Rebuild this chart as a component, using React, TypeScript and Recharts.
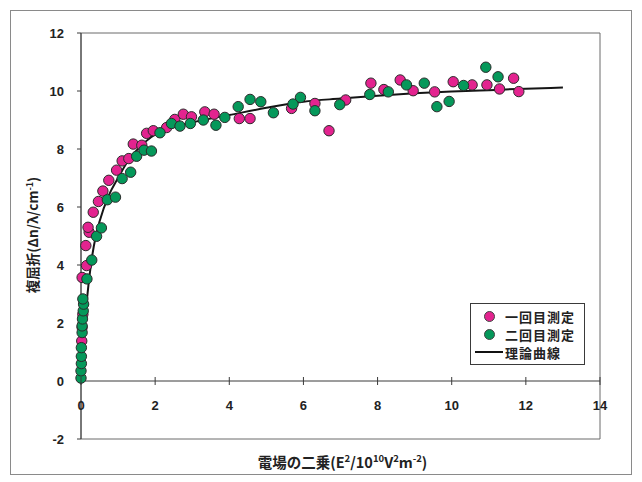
import {
  ComposedChart,
  Scatter,
  Line,
  XAxis,
  YAxis,
  ReferenceLine,
  ReferenceArea,
} from 'recharts'

// first measurement (magenta)
const firstX = [
  0.02, 0.03, 0.05, 0.03, 0.15, 0.13, 0.22, 0.19, 0.33, 0.47, 0.59, 0.75, 0.96, 1.11,
  1.29, 1.41, 1.64, 1.77, 1.95, 2.31, 2.53, 2.76, 2.98, 3.34, 3.59, 4.27, 4.56, 5.68,
  6.31, 6.69, 7.14, 7.82, 8.17, 8.61, 8.96, 9.54, 10.04, 10.55, 10.95, 11.29, 11.67, 11.81,
]
const firstY = [
  1.38, 1.85, 2.3, 3.57, 3.98, 4.67, 5.13, 5.3, 5.82, 6.19, 6.55, 6.92, 7.27, 7.59,
  7.67, 8.17, 8.13, 8.54, 8.63, 8.74, 9.02, 9.2, 9.11, 9.28, 9.2, 9.05, 9.05, 9.4,
  9.57, 8.63, 9.69, 10.27, 10.05, 10.38, 10.01, 9.97, 10.32, 10.21, 10.21, 10.07, 10.44, 9.98,
]

// second measurement (green)
const secondX = [
  0.0, 0.0, 0.01, 0.01, 0.01, 0.03, 0.03, 0.04, 0.06, 0.07, 0.05, 0.16, 0.29, 0.42,
  0.55, 0.71, 0.93, 1.11, 1.34, 1.5, 1.7, 1.9, 2.13, 2.44, 2.67, 2.95, 3.3, 3.64,
  3.88, 4.24, 4.56, 4.85, 5.19, 5.72, 5.92, 6.31, 6.98, 7.79, 8.29, 8.78, 9.26, 9.6,
  9.93, 10.32, 10.92, 11.25,
]
const secondY = [
  0.1, 0.35, 0.6, 0.85, 1.15, 1.67, 1.9, 2.14, 2.42, 2.65, 2.83, 3.52, 4.17, 4.99,
  5.28, 6.25, 6.34, 6.98, 7.2, 7.75, 7.96, 7.93, 8.56, 8.88, 8.79, 8.88, 9.0, 8.82,
  9.09, 9.46, 9.71, 9.63, 9.25, 9.55, 9.78, 9.32, 9.53, 9.88, 9.97, 10.21, 10.27, 9.46,
  9.64, 10.19, 10.82, 10.49,
]

// theoretical curve
const curveX = [0, 0.05, 0.1, 0.2, 0.3, 0.4, 0.5, 0.75, 1, 1.25, 1.5, 2, 2.5, 3, 4, 5, 6, 7, 8, 9, 10, 11, 12, 13]
const curveY = [0, 1.2, 2.0, 3.3, 4.3, 5.0, 5.5, 6.4, 7.0, 7.55, 7.95, 8.5, 8.75, 8.92, 9.17, 9.42, 9.63, 9.74, 9.84, 9.92, 9.98, 10.03, 10.08, 10.12]

const xTicks = [0, 2, 4, 6, 8, 10, 12, 14]
const yTicks = [-2, 0, 2, 4, 6, 8, 10, 12]

const firstData = firstX.map((x, i) => ({ x, y: firstY[i] }))
const secondData = secondX.map((x, i) => ({ x, y: secondY[i] }))
const curveData = curveX.map((x, i) => ({ x, y: curveY[i] }))

const MAGENTA = '#e3238f'
const GREEN = '#05985a'
const AXIS = '#3a3a3a'
const NUM_FONT = '"Liberation Sans", Arial, sans-serif'
const JP_FONT = '"Noto Sans CJK JP", "Liberation Sans", sans-serif'

const PLOT_TOP = 33
const PLOT_BOTTOM = 439
// pixel row of y = 0, so x tick labels sit under the zero line like the original
const ZERO_Y = PLOT_BOTTOM - ((0 - -2) / (12 - -2)) * (PLOT_BOTTOM - PLOT_TOP)

const Dot = (color: string) => (props: any) => (
  <circle cx={props.cx} cy={props.cy} r={5.2} fill={color} stroke="#2b2b2b" strokeWidth={1} />
)

const ZeroLineTick = (props: any) => {
  const { x, payload } = props
  return (
    <g>
      <line x1={x} x2={x} y1={ZERO_Y - 4} y2={ZERO_Y + 4} stroke={AXIS} />
      <text
        x={x}
        y={ZERO_Y + 29}
        textAnchor="middle"
        fontFamily={NUM_FONT}
        fontWeight="bold"
        fontSize={13}
        fill="#222"
      >
        {payload.value}
      </text>
    </g>
  )
}

const XTitle = (props: any) => {
  const { viewBox } = props
  const cx = viewBox.x + viewBox.width / 2 + 2
  return (
    <text
      x={cx}
      y={PLOT_BOTTOM + 29}
      textAnchor="middle"
      fontFamily={JP_FONT}
      fontWeight="bold"
      fontSize={14.5}
      fill="#222"
    >
      電場の二乗(E<tspan fontSize={9.5} dy={-6}>2</tspan>
      <tspan dy={6}>/10</tspan>
      <tspan fontSize={9.5} dy={-6}>10</tspan>
      <tspan dy={6}>V</tspan>
      <tspan fontSize={9.5} dy={-6}>2</tspan>
      <tspan dy={6}>m</tspan>
      <tspan fontSize={9.5} dy={-6}>-2</tspan>
      <tspan dy={6}>)</tspan>
    </text>
  )
}

const YTitle = () => (
  <text
    transform="translate(38, 235) rotate(-90)"
    textAnchor="middle"
    fontFamily={JP_FONT}
    fontWeight="bold"
    fontSize={13.5}
    fill="#222"
  >
    複屈折(Δn/λ/cm<tspan fontSize={9} dy={-5}>-1</tspan>
    <tspan dy={5}>)</tspan>
  </text>
)

function LegendBox() {
  const rows = [
    { label: '一回目測定', color: MAGENTA, kind: 'dot' },
    { label: '二回目測定', color: GREEN, kind: 'dot' },
    { label: '理論曲線', color: '#111', kind: 'line' },
  ]
  return (
    <div
      style={{
        position: 'absolute',
        left: 470,
        top: 303,
        width: 115,
        height: 62,
        border: `1px solid ${AXIS}`,
        background: '#fff',
        fontFamily: JP_FONT,
        fontWeight: 700,
        fontSize: 13,
        lineHeight: '15px',
        color: '#222',
        boxSizing: 'border-box',
        paddingTop: 3,
      }}
    >
      {rows.map((r) => (
        <div key={r.label} style={{ display: 'flex', alignItems: 'center', height: 18 }}>
          <div style={{ width: 34, display: 'flex', justifyContent: 'center' }}>
            {r.kind === 'dot' ? (
              <div
                style={{
                  width: 9,
                  height: 9,
                  borderRadius: '50%',
                  background: r.color,
                  border: '1px solid #444',
                  marginLeft: 2,
                }}
              />
            ) : (
              <div style={{ width: 28, height: 1.5, background: r.color, marginLeft: 2 }} />
            )}
          </div>
          <span style={{ letterSpacing: 1 }}>{r.label}</span>
        </div>
      ))}
    </div>
  )
}

export default function App() {
  return (
    <div style={{ position: 'relative', width: 642, height: 482, background: '#fff' }}>
      <style>{'body{margin:0}'}</style>
      <div
        style={{
          position: 'absolute',
          left: 10,
          top: 10,
          width: 622,
          height: 465,
          border: '1px solid #8a8a8a',
          boxSizing: 'border-box',
        }}
      />
      <div style={{ position: 'absolute', left: 0, top: 0 }}>
        <ComposedChart width={642} height={482} margin={{ top: PLOT_TOP, right: 42, bottom: 0, left: 0 }}>
          <ReferenceArea
            x1={0}
            x2={14}
            y1={-2}
            y2={12}
            fill="none"
            stroke="#6a6a6a"
            strokeWidth={1}
            ifOverflow="visible"
          />
          <XAxis
            dataKey="x"
            type="number"
            domain={[0, 14]}
            ticks={xTicks}
            height={482 - PLOT_BOTTOM}
            axisLine={false}
            tickLine={false}
            tick={<ZeroLineTick />}
            interval={0}
            label={<XTitle />}
          />
          <YAxis
            dataKey="y"
            type="number"
            domain={[-2, 12]}
            ticks={yTicks}
            width={81}
            interval={0}
            axisLine={{ stroke: AXIS }}
            tickLine={{ stroke: AXIS }}
            tickSize={4}
            tickMargin={13}
            tick={{ fontFamily: NUM_FONT, fontWeight: 'bold', fontSize: 13, fill: '#222' }}
            label={<YTitle />}
          />
          <ReferenceLine y={0} stroke={AXIS} strokeWidth={1} />
          <Scatter data={firstData} shape={Dot(MAGENTA)} isAnimationActive={false} />
          <Scatter data={secondData} shape={Dot(GREEN)} isAnimationActive={false} />
          <Line
            data={curveData}
            dataKey="y"
            type="monotone"
            dot={false}
            activeDot={false}
            stroke="#151515"
            strokeWidth={2}
            isAnimationActive={false}
          />
        </ComposedChart>
      </div>
      <LegendBox />
    </div>
  )
}
